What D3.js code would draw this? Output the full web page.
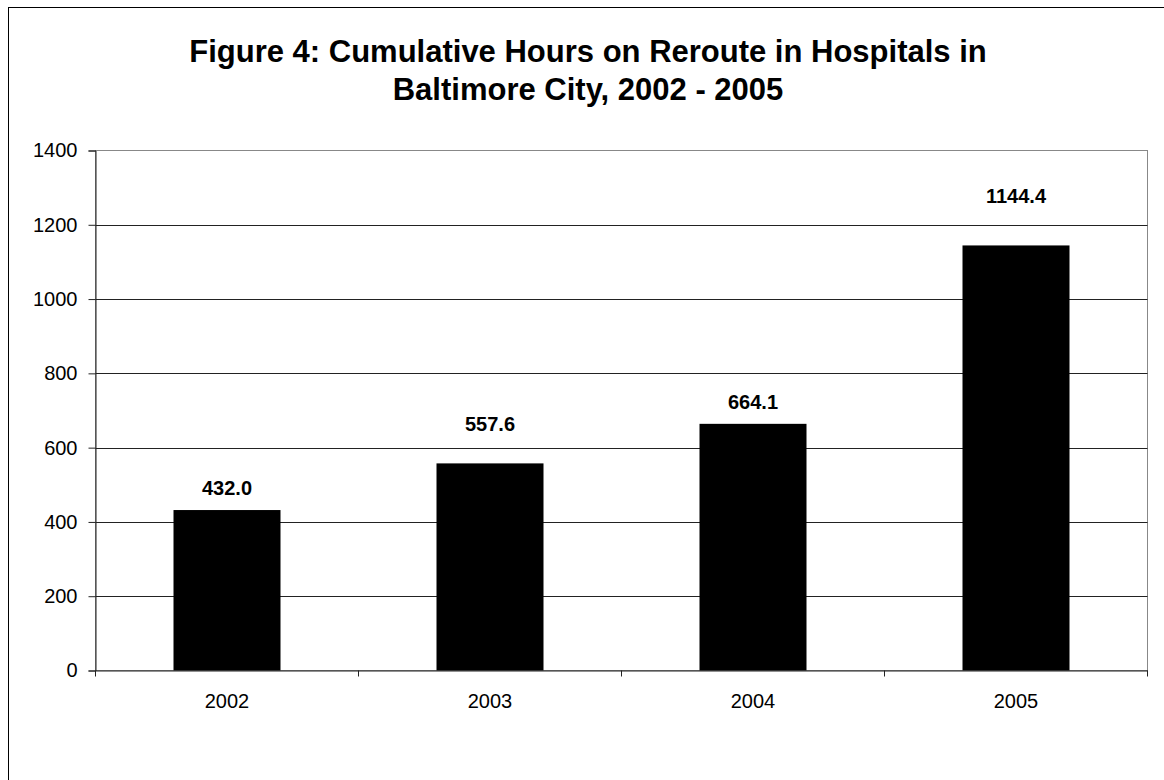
<!DOCTYPE html>
<html><head><meta charset="utf-8">
<script src="https://cdn.jsdelivr.net/npm/d3@7"></script>
<style>
html,body{margin:0;padding:0;background:#fff;}
svg{display:block;font-family:"Liberation Sans",Arial,sans-serif;}
</style></head>
<body><svg id="chart" width="1164" height="780"></svg>
<script>
const titleLines = ["Figure 4: Cumulative Hours on Reroute in Hospitals in", "Baltimore City, 2002 - 2005"];
const categories = ["2002", "2003", "2004", "2005"];
const values = [432.0, 557.6, 664.1, 1144.4];
const yTicks = [0, 200, 400, 600, 800, 1000, 1200, 1400];
// extra lift (px) of each value label above its bar, as placed in the original
const labelGap = [15, 32, 15, 42];

const svg = d3.select("#chart");
const L = 95.5, R = 1147.5, T = 150.5, B = 670.5;

// outer frame
svg.append("rect").attr("x", 8.5).attr("y", 7.5).attr("width", 1170).attr("height", 790)
  .attr("fill", "#fff").attr("stroke", "#000").attr("stroke-width", 1);

// title
svg.append("text").attr("text-anchor", "middle").attr("font-weight", "bold")
  .attr("font-size", 31).attr("fill", "#000")
  .selectAll("tspan").data(titleLines).join("tspan")
  .attr("x", 588).attr("y", (d, i) => 62 + i * 38).text(d => d);

const x = d3.scaleBand().domain(categories).range([L, R]).paddingInner(0).paddingOuter(0);
const y = d3.scaleLinear().domain([0, 1400]).range([B, T]);

// plot area border (grey)
svg.append("rect").attr("x", L).attr("y", T).attr("width", R - L).attr("height", B - T)
  .attr("fill", "none").attr("stroke", "#888").attr("stroke-width", 1);

// gridlines
svg.append("g").selectAll("line").data(yTicks.filter(d => d > 0 && d < 1400)).join("line")
  .attr("x1", L).attr("x2", R)
  .attr("y1", d => Math.round(y(d)) + 0.5).attr("y2", d => Math.round(y(d)) + 0.5)
  .attr("stroke", "#222").attr("stroke-width", 1);

// bars
const bw = 107;
svg.append("g").selectAll("rect").data(values).join("rect")
  .attr("x", (d, i) => x(categories[i]) + x.bandwidth() / 2 - bw / 2)
  .attr("y", d => y(d))
  .attr("width", bw)
  .attr("height", d => y(0) - y(d))
  .attr("fill", "#000");

// value labels
svg.append("g").selectAll("text").data(values).join("text")
  .attr("x", (d, i) => x(categories[i]) + x.bandwidth() / 2)
  .attr("y", (d, i) => y(d) - labelGap[i])
  .attr("text-anchor", "middle").attr("font-weight", "bold").attr("font-size", 20)
  .attr("fill", "#000")
  .text(d => d.toFixed(1));

// y axis
const yAxis = d3.axisLeft(y).tickValues(yTicks).tickSize(7).tickPadding(11).tickFormat(d3.format("d"));
const gy = svg.append("g").attr("transform", `translate(${L},0)`).call(yAxis);
gy.select(".domain").attr("stroke", "#222");
gy.selectAll(".tick line").attr("stroke", "#222");
gy.selectAll("text").attr("font-size", 20).attr("font-family", "Liberation Sans, Arial, sans-serif").attr("fill", "#000");

// x axis
const xAxis = d3.axisBottom(x).tickSize(0).tickPadding(23);
const gx = svg.append("g").attr("transform", `translate(0,${B})`).call(xAxis);
gx.select(".domain").attr("stroke", "#222");
gx.selectAll("text").attr("font-size", 20).attr("font-family", "Liberation Sans, Arial, sans-serif").attr("fill", "#000");
// x tick marks at category boundaries
const bounds = categories.map(c => x(c)).concat([R]);
svg.append("g").selectAll("line").data(bounds).join("line")
  .attr("x1", d => d).attr("x2", d => d).attr("y1", B).attr("y2", B + 6)
  .attr("stroke", "#222");
</script></body></html>
